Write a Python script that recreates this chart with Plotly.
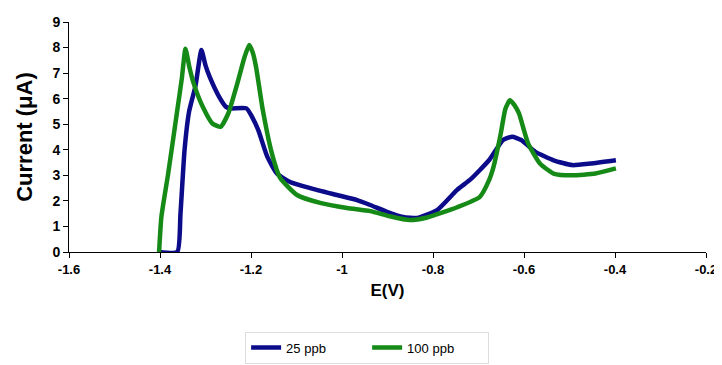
import plotly.graph_objects as go

# 25 ppb series
e_25 = [-1.402, -1.362, -1.355, -1.346, -1.336, -1.322, -1.309, -1.300, -1.291, -1.270,
        -1.255, -1.245, -1.210, -1.198, -1.184, -1.164, -1.143, -1.114, -1.070, -1.011,
        -0.967, -0.938, -0.901, -0.866, -0.835, -0.791, -0.747, -0.717, -0.677, -0.646,
        -0.626, -0.606, -0.575, -0.535, -0.494, -0.454, -0.398]
i_25 = [0.0, 0.0, 1.5, 4.0, 5.5, 6.5, 7.9, 7.3, 6.86, 6.07,
        5.68, 5.62, 5.62, 5.3, 4.77, 3.72, 3.07, 2.74, 2.5, 2.23,
        2.03, 1.84, 1.57, 1.37, 1.33, 1.64, 2.43, 2.85, 3.59, 4.38,
        4.51, 4.38, 3.92, 3.59, 3.40, 3.46, 3.59]

# 100 ppb series
e_100 = [-1.402, -1.397, -1.382, -1.362, -1.352, -1.344, -1.335, -1.326, -1.306, -1.285,
         -1.267, -1.250, -1.230, -1.214, -1.204, -1.196, -1.189, -1.174, -1.154, -1.136,
         -1.099, -1.048, -0.989, -0.938, -0.895, -0.851, -0.813, -0.747, -0.697, -0.677,
         -0.667, -0.651, -0.641, -0.631, -0.621, -0.611, -0.591, -0.565, -0.535, -0.494,
         -0.443, -0.398]
i_100 = [0.0, 1.37, 3.07, 5.55, 6.8, 7.95, 7.2, 6.6, 5.68, 5.03,
         4.9, 5.42, 6.6, 7.64, 8.1, 7.8, 7.25, 5.55, 3.85, 2.9,
         2.23, 1.92, 1.72, 1.6, 1.4, 1.25, 1.35, 1.75, 2.16, 2.8,
         3.33, 4.64, 5.6, 5.94, 5.75, 5.42, 4.25, 3.46, 3.07, 3.00,
         3.07, 3.27]

x_ticks = [-1.6, -1.4, -1.2, -1.0, -0.8, -0.6, -0.4, -0.2]
x_tick_labels = ["-1.6", "-1.4", "-1.2", "-1", "-0.8", "-0.6", "-0.4", "-0.2"]
y_ticks = [0, 1, 2, 3, 4, 5, 6, 7, 8, 9]

fig = go.Figure()
fig.add_trace(go.Scatter(x=e_25, y=i_25, mode="lines", name="25 ppb",
                         line=dict(color="#0c0c8a", width=4.5, shape="spline", smoothing=0.5)))
fig.add_trace(go.Scatter(x=e_100, y=i_100, mode="lines", name="100 ppb",
                         line=dict(color="#168a16", width=4.5, shape="spline", smoothing=0.5)))

font_main = "Liberation Sans, Arial, sans-serif"
fig.update_layout(
    width=714, height=357,
    paper_bgcolor="white", plot_bgcolor="white",
    margin=dict(l=61, r=16, t=14, b=113),
    showlegend=True,
    legend=dict(orientation="h", x=0.468, xanchor="center",
                yref="container", y=0.004, yanchor="bottom",
                bordercolor="#dddddd", borderwidth=1,
                font=dict(family=font_main, size=13, color="black"),
                entrywidth=76, entrywidthmode="pixels", tracegroupgap=0),
    xaxis=dict(range=[-1.6, -0.2], tickvals=x_ticks, ticktext=x_tick_labels, automargin=False,
               showgrid=False, zeroline=False, showline=True, linecolor="black", linewidth=1,
               ticks="outside", ticklen=5, tickcolor="black",
               tickfont=dict(family=font_main, size=13, color="black", weight="bold"),
               title=dict(text="E(V)", font=dict(family=font_main, size=17, color="black", weight="bold"),
                          standoff=8)),
    yaxis=dict(range=[0, 9], tickvals=y_ticks, automargin=False,
               showgrid=False, zeroline=False, showline=True, linecolor="black", linewidth=1,
               ticks="outside", ticklen=5, tickcolor="black",
               tickfont=dict(family=font_main, size=14, color="black", weight="bold"),
               title=dict(text="Current (μA)", font=dict(family=font_main, size=22, color="black", weight="bold"),
                          standoff=13)),
)

fig.write_html("out.html")
